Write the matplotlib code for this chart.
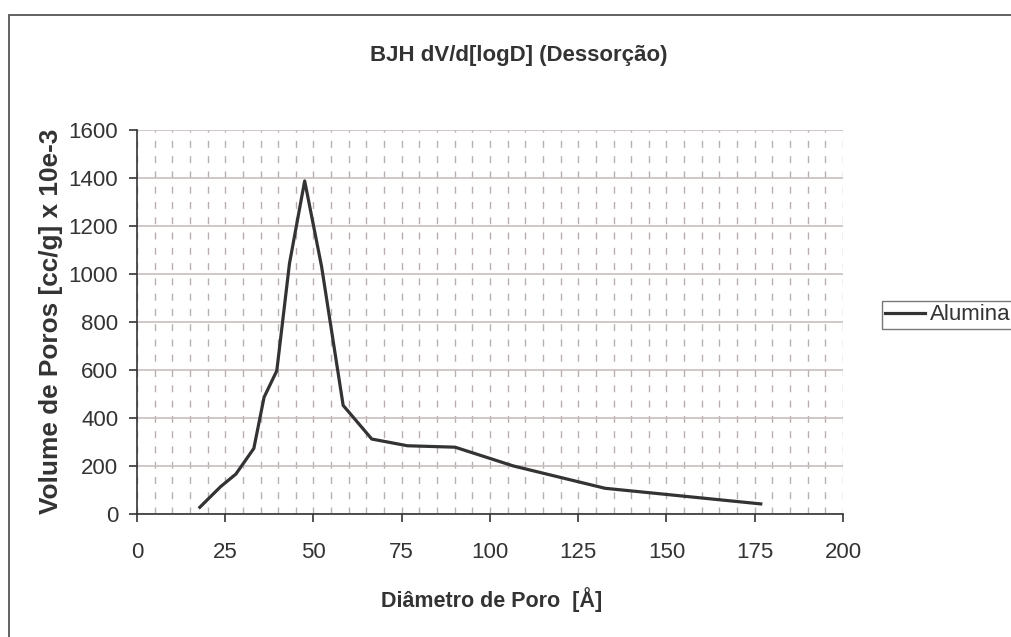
import numpy as np
import matplotlib
matplotlib.use("Agg")
import matplotlib.pyplot as plt
from matplotlib import font_manager
from matplotlib.ticker import MultipleLocator
from matplotlib.patches import Rectangle

# fonte estreita para os numeros, se existir
nomes = {f.name for f in font_manager.fontManager.ttflist}
if 'Liberation Sans Narrow' in nomes:
    fonte_num, tam_num, tam_leg = 'Liberation Sans Narrow', 18.5, 18.5
else:
    fonte_num, tam_num, tam_leg = 'Liberation Sans', 16, 16
plt.rcParams['font.family'] = ['Liberation Sans', 'DejaVu Sans']

# dados
diametro = [17.8, 23.7, 28.0, 33.1, 36.0, 39.6, 43.2, 47.5, 52.3, 58.4,
            66.5, 76.6, 90.1, 106.6, 132.6, 176.7]
volume = [28, 114, 166, 273, 486, 596, 1043, 1386, 1029, 452,
          312, 284, 278, 200, 107, 42]

titulo = "BJH dV/d[logD] (Dessorção)"
rotulo_x = "Diâmetro de Poro  [Å]"
rotulo_y = "Volume de Poros [cc/g] x 10e-3"
serie = "Alumina"

W, H = 1012, 637
fig = plt.figure(figsize=(W / 100, H / 100), dpi=100)
ax = fig.add_axes([137 / W, 1 - 514 / H, 706 / W, 384.5 / H])
cor = '#333333'

# moldura externa (cortada a direita e embaixo)
fig.patches.append(Rectangle((9 / W, -0.2), 1.2, 1.2 - 15 / H,
                             transform=fig.transFigure, fill=False,
                             edgecolor='#555555', lw=1.3))

linha, = ax.plot(diametro, volume, color=cor, lw=2.3, label=serie)

ax.set_xlim(0, 200)
ax.set_ylim(0, 1600)
ax.xaxis.set_major_locator(MultipleLocator(25))
ax.xaxis.set_minor_locator(MultipleLocator(5))
ax.yaxis.set_major_locator(MultipleLocator(200))

ax.grid(axis='y', which='major', color='#c8bebe', lw=1.2, ls='-')
ax.grid(axis='x', which='both', color='#b8aeae', lw=1.0, ls=(0, (5, 6)))
ax.set_axisbelow(True)

for s in ['top', 'right']:
    ax.spines[s].set_visible(False)
for s in ['left', 'bottom']:
    ax.spines[s].set_color(cor)
    ax.spines[s].set_linewidth(1.2)

ax.tick_params(which='major', direction='out', length=5.5, width=1.2,
               color=cor, labelsize=tam_num, labelcolor=cor)
ax.tick_params(axis='x', pad=15)
ax.tick_params(axis='y', pad=8)
ax.tick_params(which='minor', length=0)
for lab in ax.get_xticklabels() + ax.get_yticklabels():
    lab.set_family(fonte_num)

ax.set_xlabel(rotulo_x, fontsize=15, fontweight='bold', color=cor,
              va='baseline')
ax.xaxis.set_label_coords(*ax.transAxes.inverted().transform(
    (491.7, H - 606.7)))
ax.set_ylabel(rotulo_y, fontsize=19, fontweight='bold', color=cor,
              va='baseline', rotation_mode='anchor')
ax.yaxis.set_label_coords(*ax.transAxes.inverted().transform(
    (58, H - 321.5)))
tit = fig.text(519 / W, 1 - 60.7 / H, titulo, fontsize=16, fontweight='bold',
               color=cor, ha='center', va='baseline')

leg = fig.legend(handles=[linha], loc='upper left',
                 bbox_to_anchor=(882 / W, 1 - 301 / H), fontsize=tam_leg,
                 frameon=True, fancybox=False, handlelength=1.8,
                 handletextpad=0.2, borderpad=0.15, borderaxespad=0)
leg.get_frame().set_edgecolor('#555555')
leg.get_frame().set_linewidth(1.0)
for t in leg.get_texts():
    t.set_color(cor)
    t.set_family(fonte_num)


# ajusta o tamanho dos textos a largura medida na figura
def ajusta(t, largura):
    r = fig.canvas.get_renderer()
    bb = t.get_window_extent(r)
    t.set_fontsize(t.get_fontsize() * largura / max(bb.width, bb.height))


fig.canvas.draw()
ajusta(tit, 298)
ajusta(ax.xaxis.label, 222)
ajusta(ax.yaxis.label, 387)

fig.savefig("out.png", dpi=100)
